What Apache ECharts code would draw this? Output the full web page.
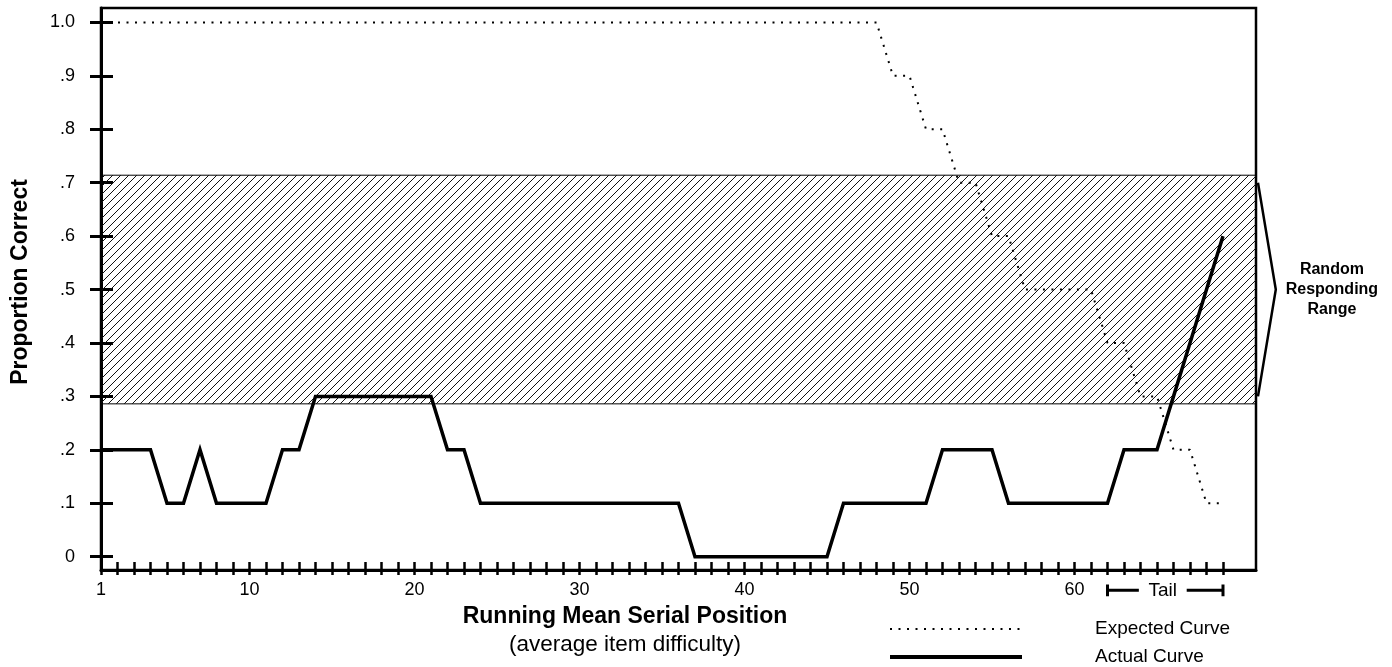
<!DOCTYPE html>
<html>
<head>
    <meta charset="UTF-8">
    <title>Proportion Correct</title>
    <script src="https://cdn.jsdelivr.net/npm/echarts@6/dist/echarts.min.js"></script>
    <style>
        html, body { margin: 0; padding: 0; background: #fff; }
        #main { width: 1392px; height: 667px; }
    </style>
</head>
<body>
    <div id="main"></div>
    <script type="text/javascript">
        // 期望曲线（序号 1..69）
        var expectedCurve = [
            1.0, 1.0, 1.0, 1.0, 1.0, 1.0, 1.0, 1.0, 1.0, 1.0,
            1.0, 1.0, 1.0, 1.0, 1.0, 1.0, 1.0, 1.0, 1.0, 1.0,
            1.0, 1.0, 1.0, 1.0, 1.0, 1.0, 1.0, 1.0, 1.0, 1.0,
            1.0, 1.0, 1.0, 1.0, 1.0, 1.0, 1.0, 1.0, 1.0, 1.0,
            1.0, 1.0, 1.0, 1.0, 1.0, 1.0, 1.0, 1.0, 0.9, 0.9,
            0.8, 0.8, 0.7, 0.7, 0.6, 0.6, 0.5, 0.5, 0.5, 0.5,
            0.5, 0.4, 0.4, 0.3, 0.3, 0.2, 0.2, 0.1, 0.1
        ];
        // 实际曲线
        var actualCurve = [
            0.2, 0.2, 0.2, 0.2, 0.1, 0.1, 0.2, 0.1, 0.1, 0.1,
            0.1, 0.2, 0.2, 0.3, 0.3, 0.3, 0.3, 0.3, 0.3, 0.3,
            0.3, 0.2, 0.2, 0.1, 0.1, 0.1, 0.1, 0.1, 0.1, 0.1,
            0.1, 0.1, 0.1, 0.1, 0.1, 0.1, 0, 0, 0, 0,
            0, 0, 0, 0, 0, 0.1, 0.1, 0.1, 0.1, 0.1,
            0.1, 0.2, 0.2, 0.2, 0.2, 0.1, 0.1, 0.1, 0.1, 0.1,
            0.1, 0.1, 0.2, 0.2, 0.2, 0.3, 0.4, 0.5, 0.6
        ];
        var xLabelValues = [1, 10, 20, 30, 40, 50, 60];
        var yTickValues = [0, 0.1, 0.2, 0.3, 0.4, 0.5, 0.6, 0.7, 0.8, 0.9, 1.0];
        var randomRange = [0.286, 0.714];
        // 右侧括号和 Tail 标注（数据坐标）
        var rangeBracket = [[71.12, 0.7], [72.2, 0.5], [71.12, 0.3]];
        var tailLeft = [[62, -0.052], [62, -0.074], [62, -0.063], [63.9, -0.063]];
        var tailRight = [[66.8, -0.063], [69, -0.063], [69, -0.052], [69, -0.074]];
        var rangeTextAt = [75.6, 0.5];
        var tailTextAt = [65.35, -0.063];

        var xTickValues = [];
        for (var i = 1; i <= 69; i++) xTickValues.push(i);

        function toPairs(arr) {
            return arr.map(function (v, idx) { return [idx + 1, v]; });
        }

        // 斜线填充
        var hatch = document.createElement('canvas');
        hatch.width = 8;
        hatch.height = 8;
        var ctx = hatch.getContext('2d');
        ctx.strokeStyle = '#111';
        ctx.lineWidth = 1;
        ctx.beginPath();
        ctx.moveTo(0, 8); ctx.lineTo(8, 0);
        ctx.moveTo(-2, 2); ctx.lineTo(2, -2);
        ctx.moveTo(6, 10); ctx.lineTo(10, 6);
        ctx.stroke();

        var font = '"Liberation Sans", Arial, Helvetica, sans-serif';
        var myChart = echarts.init(document.getElementById('main'));

        var option = {
            animation: false,
            textStyle: { fontFamily: font, color: '#000' },
            title: {
                text: 'Running Mean Serial Position',
                subtext: '(average item difficulty)',
                left: 625,
                top: 605,
                textAlign: 'center',
                itemGap: 5,
                padding: 0,
                textStyle: { fontSize: 23, fontWeight: 'bold', color: '#000', fontFamily: font },
                subtextStyle: { fontSize: 22.5, color: '#000', fontFamily: font }
            },
            legend: {
                orient: 'vertical',
                left: 888,
                top: 619,
                itemWidth: 132,
                itemHeight: 14,
                itemGap: 8,
                padding: 0,
                selectedMode: false,
                itemStyle: { opacity: 0, color: 'rgba(0,0,0,0)', borderWidth: 0 },
                data: [
                    { name: 'Expected Curve', lineStyle: { width: 2, type: [2, 6.5], color: '#000' } },
                    { name: 'Actual Curve', lineStyle: { width: 4, type: 'solid', color: '#000' } }
                ],
                textStyle: { fontSize: 19, lineHeight: 20, color: '#000', fontFamily: font, padding: [0, 0, 0, 68] }
            },
            grid: {
                left: 101,
                top: 8,
                width: 1155,
                height: 562,
                outerBoundsMode: 'none',
                show: true,
                borderColor: '#000',
                borderWidth: 2.5,
                backgroundColor: 'transparent'
            },
            xAxis: [
                {
                    type: 'value',
                    min: 1,
                    max: 71,
                    position: 'bottom',
                    axisLine: { onZero: false, lineStyle: { color: '#000', width: 3 } },
                    axisTick: { customValues: xTickValues, length: 5, lineStyle: { color: '#000', width: 2.5 } },
                    axisLabel: { customValues: xLabelValues, margin: 11, fontSize: 18, color: '#000', fontFamily: font },
                    splitLine: { show: false }
                },
                {
                    type: 'value',
                    min: 1,
                    max: 71,
                    position: 'bottom',
                    axisLine: { show: false, onZero: false },
                    axisTick: { customValues: xTickValues, inside: true, length: 8, lineStyle: { color: '#000', width: 2.5 } },
                    axisLabel: { show: false },
                    splitLine: { show: false }
                }
            ],
            yAxis: [
                {
                    type: 'value',
                    min: -0.025,
                    max: 1.027,
                    position: 'left',
                    name: 'Proportion Correct',
                    nameLocation: 'middle',
                    nameRotate: 90,
                    nameGap: 69,
                    nameTextStyle: { fontSize: 23, fontWeight: 'bold', color: '#000', fontFamily: font, padding: [0, 0, 0, 14] },
                    axisLine: { onZero: false, lineStyle: { color: '#000', width: 3 } },
                    axisTick: { customValues: yTickValues, length: 11, lineStyle: { color: '#000', width: 3 } },
                    axisLabel: {
                        customValues: yTickValues,
                        margin: 26,
                        fontSize: 18,
                        color: '#000',
                        fontFamily: font,
                        formatter: function (v) {
                            if (Math.abs(v - 1) < 1e-6) return '1.0';
                            if (Math.abs(v) < 1e-6) return '0';
                            return v.toFixed(1).replace('0.', '.');
                        }
                    },
                    splitLine: { show: false }
                },
                {
                    type: 'value',
                    min: -0.025,
                    max: 1.027,
                    position: 'left',
                    axisLine: { show: false, onZero: false },
                    axisTick: { customValues: yTickValues, inside: true, length: 12, lineStyle: { color: '#000', width: 3 } },
                    axisLabel: { show: false },
                    splitLine: { show: false }
                }
            ],
            series: [
                {
                    name: 'Expected Curve',
                    type: 'line',
                    data: toPairs(expectedCurve),
                    symbol: 'none',
                    z: 3,
                    lineStyle: { color: '#000', width: 2, type: [2, 6.5], cap: 'butt' },
                    itemStyle: { color: '#000' },
                    markArea: {
                        silent: true,
                        itemStyle: {
                            color: { image: hatch, repeat: 'repeat' },
                            borderColor: '#000',
                            borderWidth: 1
                        },
                        data: [[{ yAxis: randomRange[0] }, { yAxis: randomRange[1] }]]
                    }
                },
                {
                    name: 'Actual Curve',
                    type: 'line',
                    data: toPairs(actualCurve),
                    symbol: 'none',
                    z: 4,
                    lineStyle: { color: '#000', width: 3.5, join: 'miter' },
                    itemStyle: { color: '#000' }
                },
                {
                    name: 'tailL',
                    type: 'line',
                    data: tailLeft,
                    symbol: 'none',
                    clip: false,
                    silent: true,
                    lineStyle: { color: '#000', width: 3 }
                },
                {
                    name: 'tailR',
                    type: 'line',
                    data: tailRight,
                    symbol: 'none',
                    clip: false,
                    silent: true,
                    lineStyle: { color: '#000', width: 3 }
                }
            ]
        };
        myChart.setOption(option);

        // 坐标系外的标注，用 convertToPixel 换算位置
        var rp = myChart.convertToPixel({ gridIndex: 0 }, rangeTextAt);
        var tp = myChart.convertToPixel({ gridIndex: 0 }, tailTextAt);
        var bracketPts = rangeBracket.map(function (p) {
            return myChart.convertToPixel({ gridIndex: 0 }, p);
        });
        myChart.setOption({
            graphic: [
                {
                    type: 'polyline',
                    shape: { points: bracketPts },
                    style: { stroke: '#000', lineWidth: 2.5, fill: null, lineJoin: 'miter' }
                },
                {
                    type: 'text',
                    x: rp[0],
                    y: rp[1],
                    style: {
                        text: 'Random\nResponding\nRange',
                        align: 'center',
                        verticalAlign: 'middle',
                        lineHeight: 20,
                        font: 'bold 16px ' + font,
                        fill: '#000'
                    }
                },
                {
                    type: 'text',
                    x: tp[0],
                    y: tp[1],
                    style: {
                        text: 'Tail',
                        align: 'center',
                        verticalAlign: 'middle',
                        font: '19px ' + font,
                        fill: '#000'
                    }
                }
            ]
        });
    </script>
</body>
</html>
